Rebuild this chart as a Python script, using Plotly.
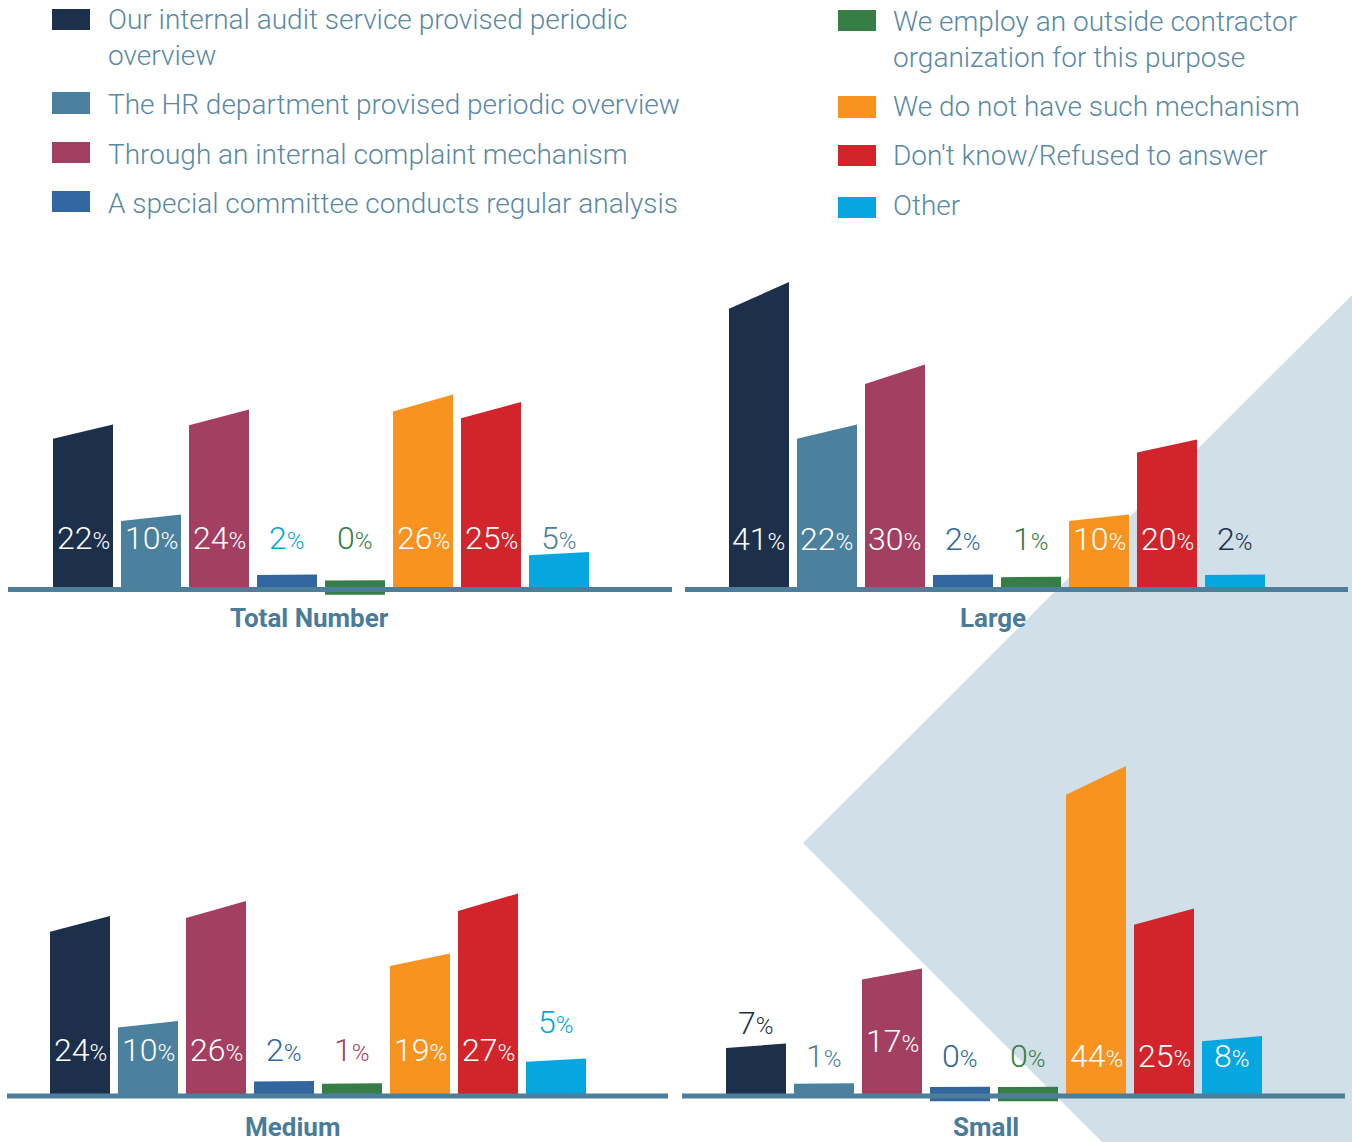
import plotly.graph_objects as go

W, H = 1352, 1142

# ---------------- data ----------------
series_names = [
    "Our internal audit service provised periodic<br>overview",
    "The HR department provised periodic overview",
    "Through an internal complaint mechanism",
    "A special committee conducts regular analysis",
    "We employ an outside contractor<br>organization for this purpose",
    "We do not have such mechanism",
    "Don't know/Refused to answer",
    "Other",
]
panel_titles = ["Total Number", "Large", "Medium", "Small"]
total_values = [22, 10, 24, 2, 0, 26, 25, 5]
large_values = [41, 22, 30, 2, 1, 10, 20, 2]
medium_values = [24, 10, 26, 2, 1, 19, 27, 5]
small_values = [7, 1, 17, 0, 0, 44, 25, 8]
panel_values = [total_values, large_values, medium_values, small_values]

# ---------------- styles ----------------
colors = ["#1c2f4b", "#4b809e", "#a34061", "#3166a0",
          "#367d46", "#f7931e", "#d2242b", "#06a7e0"]
WHITE = "#ffffff"
label_colors = [
    [WHITE, WHITE, WHITE, colors[7], colors[4], WHITE, WHITE, colors[1]],
    [WHITE, WHITE, WHITE, colors[3], colors[4], WHITE, WHITE, colors[0]],
    [WHITE, WHITE, WHITE, colors[3], colors[2], WHITE, WHITE, colors[7]],
    [colors[0], colors[1], WHITE, colors[3], colors[4], WHITE, WHITE, WHITE],
]
# label centre heights (in value units above the baseline)
label_levels = [
    [6.9] * 8,
    [6.8] * 8,
    [6.1, 6.1, 6.1, 6.1, 6.1, 6.1, 6.1, 9.9],
    [9.7, 5.4, 7.3, 5.4, 5.4, 5.4, 5.4, 5.4],
]
TEXT_COL = "#5a89a5"
TITLE_COL = "#4a7c9a"
BASE_COL = "#4d7f9b"
BG_SHAPE = "#d0dfe8"
FONT = "Roboto"

PX_PER_UNIT = 7.5
PITCH = 68.0
BAR_W = 60.0 / PITCH
SLANT = 0.913
MIN_H = 1.7

geom = [
    dict(left=8, right=672, c0=83, base=589.5, top=250, bottom=640, tx=309, ty=618),
    dict(left=685, right=1348, c0=759, base=589.5, top=250, bottom=640, tx=993, ty=618),
    dict(left=7, right=668, c0=80, base=1096, top=740, bottom=1140, tx=292, ty=1127),
    dict(left=682, right=1345, c0=756, base=1096, top=740, bottom=1140, tx=986, ty=1127),
]


def px(x):
    return x / W


def py(y):
    return 1 - y / H


fig = go.Figure()
shapes = []
annotations = []

# background diamond (decoration)
shapes.append(dict(
    type="path", xref="paper", yref="paper", layer="below",
    path=(f"M {px(1352)} {py(295)} L {px(803)} {py(843)} L {px(1102)} {py(1142)} "
          f"L {px(1352)} {py(1142)} Z"),
    fillcolor=BG_SHAPE, line=dict(width=0)))

for p, (vals, g) in enumerate(zip(panel_values, geom)):
    xa = "x" if p == 0 else f"x{p+1}"
    ya = "y" if p == 0 else f"y{p+1}"
    xr = [-(g["c0"] - g["left"]) / PITCH, (g["right"] - g["c0"]) / PITCH]
    yr = [-(g["bottom"] - g["base"]) / PX_PER_UNIT, (g["base"] - g["top"]) / PX_PER_UNIT]
    axkey = "xaxis" if p == 0 else f"xaxis{p+1}"
    aykey = "yaxis" if p == 0 else f"yaxis{p+1}"
    fig.layout[axkey] = dict(domain=[px(g["left"]), px(g["right"])], range=xr,
                             visible=False, fixedrange=True, anchor=ya)
    fig.layout[aykey] = dict(domain=[py(g["bottom"]), py(g["top"])], range=yr,
                             visible=False, fixedrange=True, anchor=xa)

    for i, v in enumerate(vals):
        x0, x1 = i - BAR_W / 2, i + BAR_W / 2
        if v == 0:
            b, hl, hr = -0.7, 1.2, 1.25
        else:
            hr = max(v, MIN_H)
            hl = hr * SLANT if v >= 5 else hr * 0.97
            b = 0
        fig.add_trace(go.Scatter(
            x=[x0, x0, x1, x1, x0], y=[b, hl, hr, b, b],
            fill="toself", fillcolor=colors[i], mode="lines",
            line=dict(width=0), hoverinfo="skip", showlegend=False,
            xaxis=xa, yaxis=ya))
        annotations.append(dict(
            x=i, y=label_levels[p][i], xref=xa, yref=ya, showarrow=False,
            xanchor="center", yanchor="middle",
            text=f"{v}<span style='font-size:24px'>%</span>",
            font=dict(family=FONT, size=32, color=label_colors[p][i], weight=300)))

    # baseline
    shapes.append(dict(type="line", xref=f"{xa} domain", yref=ya, x0=0, x1=1,
                       y0=0, y1=0, layer="above",
                       line=dict(color=BASE_COL, width=5)))
    # panel title
    annotations.append(dict(x=px(g["tx"]), y=py(g["ty"]), xref="paper", yref="paper",
                            showarrow=False, xanchor="center", yanchor="middle",
                            text=f"<b>{panel_titles[p]}</b>",
                            font=dict(family=FONT, size=26, color=TITLE_COL)))

# legend (manual, two columns)
legend_swatches = [
    (52, 9, 30), (52, 92, 114), (52, 142, 163), (52, 191, 212),
    (838, 10, 31), (838, 96, 118), (838, 145, 166), (838, 197, 218),
]
legend_text_x = [106, 106, 106, 106, 891, 891, 891, 891]
legend_text_y = [37, 104, 154, 203, 39.5, 106, 156, 206]
for k, name in enumerate(series_names):
    sx, sy0, sy1 = legend_swatches[k]
    shapes.append(dict(type="rect", xref="paper", yref="paper",
                       x0=px(sx), x1=px(sx + 38), y0=py(sy1), y1=py(sy0),
                       fillcolor=colors[k], line=dict(width=0)))
    annotations.append(dict(x=px(legend_text_x[k]), y=py(legend_text_y[k]),
                            xref="paper", yref="paper",
                            showarrow=False, xanchor="left", yanchor="middle", align="left",
                            text=name,
                            font=dict(family=FONT, size=28, color=TEXT_COL, weight=300)))

fig.update_layout(
    width=W, height=H, margin=dict(l=0, r=0, t=0, b=0),
    paper_bgcolor="white", plot_bgcolor="rgba(0,0,0,0)",
    shapes=shapes, annotations=annotations, showlegend=False,
)

fig.write_html("out.html",
               config={"displayModeBar": False},
               post_script="document.body.style.margin='0px';"
                           "document.body.style.overflow='hidden';")
